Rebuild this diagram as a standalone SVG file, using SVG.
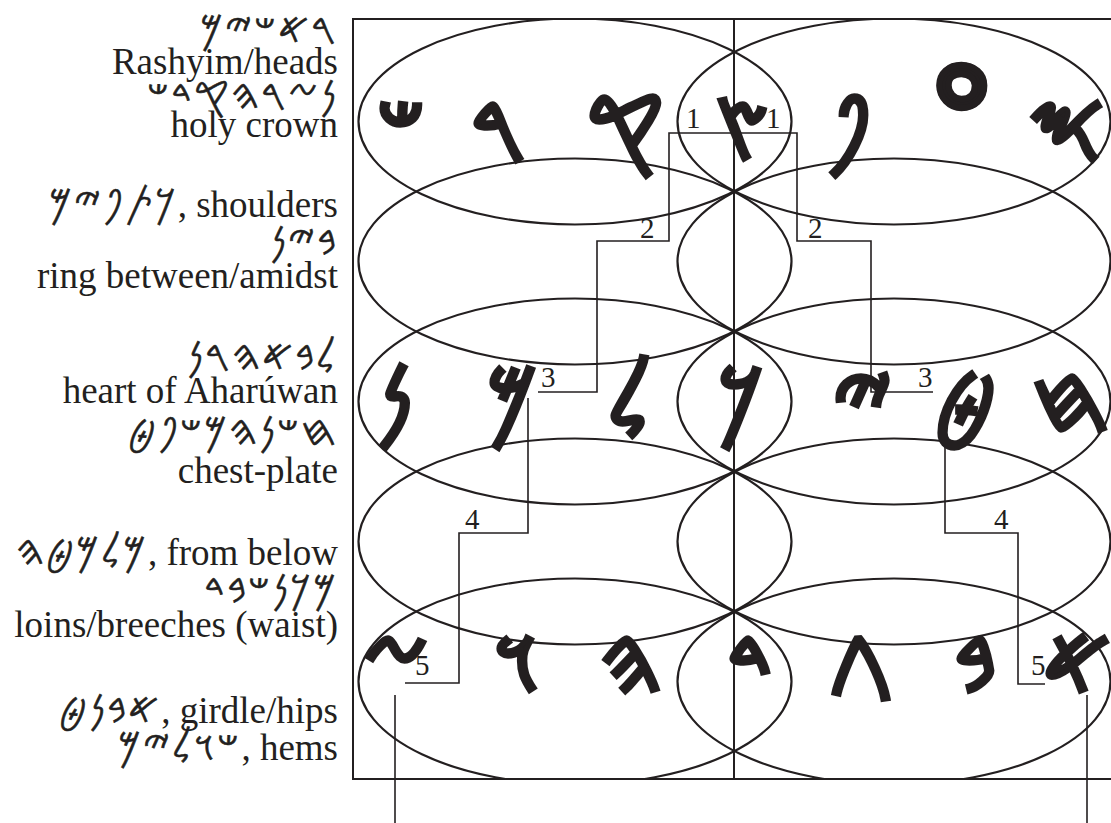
<svg xmlns="http://www.w3.org/2000/svg" width="1111" height="823" viewBox="0 0 1111 823">
<style>
.lbl{font-family:"Liberation Serif",serif;font-size:37px;fill:#231f20;text-anchor:end}
.ph{font-family:"DejaVu Sans","Noto Sans",sans-serif;font-size:42px;letter-spacing:2px;stroke:#231f20;stroke-width:0.6}
.big{font-family:"DejaVu Sans","Noto Sans",sans-serif;font-size:92px;font-weight:bold;fill:#231f20;stroke:#231f20;stroke-width:2.5;text-anchor:middle}
.num{font-family:"Liberation Serif",serif;font-size:29px;fill:#231f20}
.ell{fill:none;stroke:#231f20;stroke-width:2.2}
.con{fill:none;stroke:#231f20;stroke-width:1.6}
</style>
<defs>
<clipPath id="frame"><rect x="353" y="19" width="800" height="760"/></clipPath>
</defs>
<rect width="1111" height="823" fill="#fff"/>
<g id="labels">
<text class="lbl" x="338" y="43"><tspan class="ph">&#x10913;&#x10900;&#x10914;&#x10909;&#x1090C;</tspan></text>
<text class="lbl" x="338" y="74">Rashyim/heads</text>
<text class="lbl" x="338" y="109"><tspan class="ph">&#x1090D;&#x10906;&#x10913;&#x10904;&#x10912;&#x10903;&#x10914;</tspan></text>
<text class="lbl" x="338" y="137">holy crown</text>
<text class="lbl" x="338" y="217"><tspan class="ph">&#x1090A;&#x10915;&#x10910;&#x10909;&#x1090C;</tspan>, shoulders</text>
<text class="lbl" x="338" y="255"><tspan class="ph">&#x10901;&#x10909;&#x1090D;</tspan></text>
<text class="lbl" x="338" y="288">ring between/amidst</text>
<text class="lbl" x="338" y="370"><tspan class="ph">&#x1090B;&#x10901;&#x10900;&#x10904;&#x10913;&#x1090D;</tspan></text>
<text class="lbl" x="338" y="403">heart of Aharúwan</text>
<text class="lbl" x="338" y="445"><tspan class="ph">&#x10907;&#x10914;&#x1090D;&#x10904;&#x1090C;&#x10914;&#x10910;&#x10908;</tspan></text>
<text class="lbl" x="338" y="483">chest-plate</text>
<text class="lbl" x="338" y="565"><tspan class="ph">&#x1090C;&#x1090B;&#x1090C;&#x10908;&#x10904;</tspan>, from below</text>
<text class="lbl" x="338" y="603"><tspan class="ph">&#x1090C;&#x1090A;&#x1090D;&#x10914;&#x10901;&#x10903;</tspan></text>
<text class="lbl" x="338" y="637">loins/breeches (waist)</text>
<text class="lbl" x="338" y="723"><tspan class="ph">&#x10900;&#x10901;&#x1090D;&#x10908;</tspan>, girdle/hips</text>
<text class="lbl" x="338" y="760"><tspan class="ph">&#x10914;&#x10905;&#x1090B;&#x10909;&#x1090C;</tspan>, hems</text>
</g>
<g id="frame-box">
<rect x="353" y="19" width="800" height="760" fill="none" stroke="#231f20" stroke-width="2"/>
<line x1="734" y1="19" x2="734" y2="779" stroke="#231f20" stroke-width="2"/>
</g>
<g id="ellipses" clip-path="url(#frame)">
<ellipse class="ell" cx="575" cy="121.5" rx="216.5" ry="103"/>
<ellipse class="ell" cx="894" cy="121.5" rx="216.5" ry="103"/>
<ellipse class="ell" cx="575" cy="261.5" rx="216.5" ry="103"/>
<ellipse class="ell" cx="894" cy="261.5" rx="216.5" ry="103"/>
<ellipse class="ell" cx="575" cy="401.5" rx="216.5" ry="103"/>
<ellipse class="ell" cx="894" cy="401.5" rx="216.5" ry="103"/>
<ellipse class="ell" cx="575" cy="541.5" rx="216.5" ry="103"/>
<ellipse class="ell" cx="894" cy="541.5" rx="216.5" ry="103"/>
<ellipse class="ell" cx="575" cy="681.5" rx="216.5" ry="103"/>
<ellipse class="ell" cx="894" cy="681.5" rx="216.5" ry="103"/>
</g>
<g id="connectors">
<path class="con" d="M538,392 H597 V241 H669 V133 H797 V241 H871 V392 H933"/>
<path class="con" d="M528,398 V533 H459 V683 H405"/>
<path class="con" d="M945,425 V533 H1018 V684 H1045"/>
<path class="con" d="M395,695 V823"/>
<path class="con" d="M1087,695 V823"/>
</g>
<g id="numbers">
<text class="num" x="686" y="128">1</text>
<text class="num" x="766" y="128">1</text>
<text class="num" x="640" y="238">2</text>
<text class="num" x="808" y="238">2</text>
<text class="num" x="541" y="387">3</text>
<text class="num" x="918" y="387">3</text>
<text class="num" x="465" y="529">4</text>
<text class="num" x="994" y="529">4</text>
<text class="num" x="415" y="675">5</text>
<text class="num" x="1031" y="675">5</text>
</g>
<g id="row1">
<text class="big" x="401" y="158">&#x10914;</text>
<text class="big" x="498" y="158">&#x10913;</text>
<text class="big" x="625" y="158">&#x10912;</text>
<text class="big" x="742" y="158">&#x10911;</text>
<text class="big" x="849" y="158">&#x10910;</text>
<text class="big" x="961" y="165" style="font-size:170px;stroke-width:1">&#x1090F;</text>
<text class="big" x="1066" y="158">&#x1090E;</text>
</g>
<g id="row3">
<text class="big" x="394" y="430">&#x1090D;</text>
<text class="big" x="512" y="430">&#x1090C;</text>
<text class="big" x="629" y="430">&#x1090B;</text>
<text class="big" x="741" y="430">&#x1090A;</text>
<text class="big" x="862" y="430">&#x10909;</text>
<text class="big" x="965" y="430">&#x10908;</text>
<text class="big" x="1070" y="430">&#x10907;</text>
</g>
<g id="row5">
<text class="big" x="396" y="692">&#x10906;</text>
<text class="big" x="516" y="692">&#x10905;</text>
<text class="big" x="631" y="692">&#x10904;</text>
<text class="big" x="750" y="692">&#x10903;</text>
<text class="big" x="861" y="692">&#x10902;</text>
<text class="big" x="975" y="692">&#x10901;</text>
<text class="big" x="1077" y="692">&#x10900;</text>
</g>
</svg>
